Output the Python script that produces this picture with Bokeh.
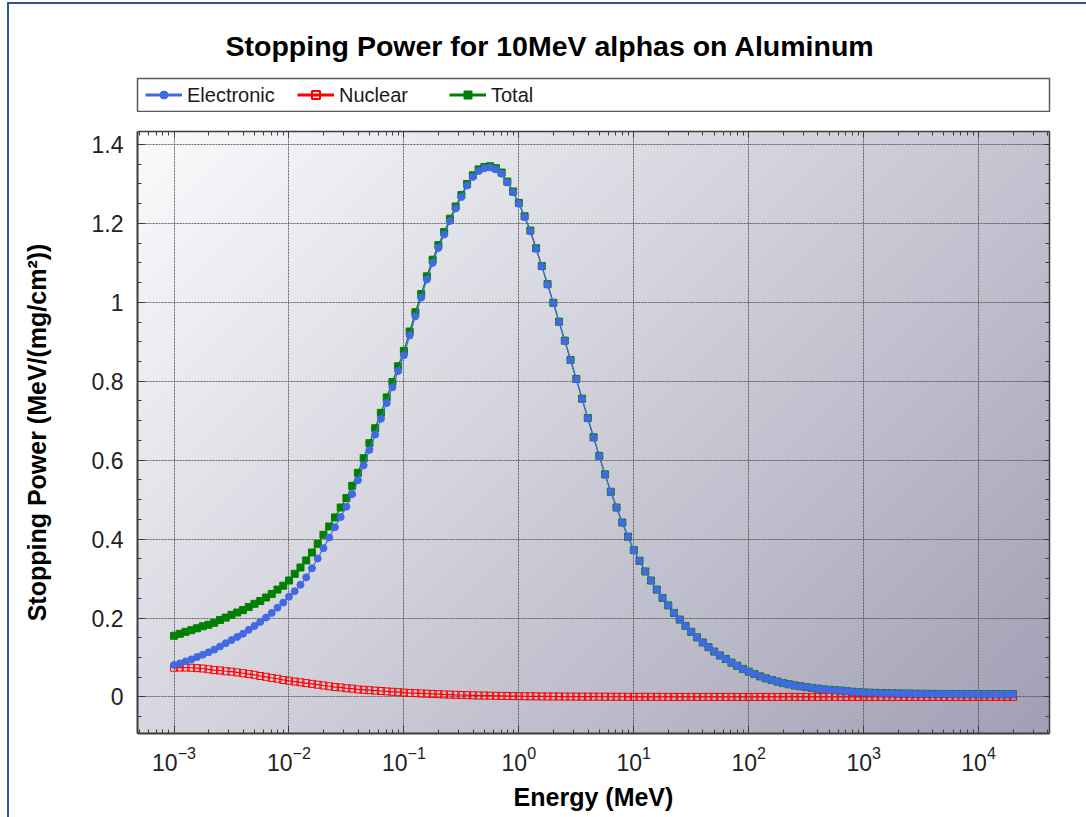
import numpy as np
from bokeh.plotting import figure
from bokeh.models import (Range1d, LogAxis, LinearAxis, FixedTicker, SingleIntervalTicker,
                          LogTickFormatter, CustomJSTickFormatter, Legend, LegendItem,
                          ColumnDataSource, Title)
from bokeh.layouts import column
from bokeh.embed import file_html
from bokeh.resources import INLINE

# ---------------- data ----------------
energy_mev = [
    1.000e-3, 1.122e-3, 1.259e-3, 1.413e-3, 1.585e-3, 1.778e-3, 1.995e-3, 2.239e-3, 2.512e-3, 2.818e-3,
    3.162e-3, 3.548e-3, 3.981e-3, 4.467e-3, 5.012e-3, 5.623e-3, 6.310e-3, 7.079e-3, 7.943e-3, 8.913e-3,
    1.000e-2, 1.122e-2, 1.259e-2, 1.413e-2, 1.585e-2, 1.778e-2, 1.995e-2, 2.239e-2, 2.512e-2, 2.818e-2,
    3.162e-2, 3.548e-2, 3.981e-2, 4.467e-2, 5.012e-2, 5.623e-2, 6.310e-2, 7.079e-2, 7.943e-2, 8.913e-2,
    1.000e-1, 1.122e-1, 1.259e-1, 1.413e-1, 1.585e-1, 1.778e-1, 1.995e-1, 2.239e-1, 2.512e-1, 2.818e-1,
    3.162e-1, 3.548e-1, 3.981e-1, 4.467e-1, 5.012e-1, 5.623e-1, 6.310e-1, 7.079e-1, 7.943e-1, 8.913e-1,
    1.000e0, 1.122e0, 1.259e0, 1.413e0, 1.585e0, 1.778e0, 1.995e0, 2.239e0, 2.512e0, 2.818e0,
    3.162e0, 3.548e0, 3.981e0, 4.467e0, 5.012e0, 5.623e0, 6.310e0, 7.079e0, 7.943e0, 8.913e0,
    1.000e1, 1.122e1, 1.259e1, 1.413e1, 1.585e1, 1.778e1, 1.995e1, 2.239e1, 2.512e1, 2.818e1,
    3.162e1, 3.548e1, 3.981e1, 4.467e1, 5.012e1, 5.623e1, 6.310e1, 7.079e1, 7.943e1, 8.913e1,
    1.000e2, 1.122e2, 1.259e2, 1.413e2, 1.585e2, 1.778e2, 1.995e2, 2.239e2, 2.512e2, 2.818e2,
    3.162e2, 3.548e2, 3.981e2, 4.467e2, 5.012e2, 5.623e2, 6.310e2, 7.079e2, 7.943e2, 8.913e2,
    1.000e3, 1.122e3, 1.259e3, 1.413e3, 1.585e3, 1.778e3, 1.995e3, 2.239e3, 2.512e3, 2.818e3,
    3.162e3, 3.548e3, 3.981e3, 4.467e3, 5.012e3, 5.623e3, 6.310e3, 7.079e3, 7.943e3, 8.913e3,
    1.000e4, 1.122e4, 1.259e4, 1.413e4, 1.585e4, 1.778e4, 1.995e4,
]

electronic = [
    0.081, 0.085, 0.090, 0.095, 0.101, 0.107, 0.113, 0.120, 0.128, 0.136,
    0.144, 0.152, 0.160, 0.170, 0.180, 0.190, 0.201, 0.213, 0.226, 0.239,
    0.254, 0.268, 0.284, 0.303, 0.326, 0.351, 0.377, 0.404, 0.430, 0.456,
    0.482, 0.514, 0.549, 0.587, 0.626, 0.665, 0.705, 0.745, 0.785, 0.826,
    0.866, 0.916, 0.965, 1.012, 1.058, 1.100, 1.138, 1.172, 1.206, 1.238,
    1.267, 1.296, 1.318, 1.333, 1.340, 1.342, 1.337, 1.326, 1.304, 1.279,
    1.250, 1.216, 1.180, 1.136, 1.091, 1.045, 0.998, 0.950, 0.902, 0.853,
    0.805, 0.755, 0.706, 0.657, 0.610, 0.563, 0.520, 0.480, 0.442, 0.406,
    0.372, 0.345, 0.318, 0.295, 0.272, 0.251, 0.232, 0.213, 0.196, 0.180,
    0.165, 0.151, 0.138, 0.126, 0.115, 0.105, 0.096, 0.087, 0.079, 0.071,
    0.064, 0.058, 0.052, 0.047, 0.043, 0.039, 0.035, 0.032, 0.029, 0.027,
    0.025, 0.023, 0.021, 0.019, 0.018, 0.017, 0.016, 0.0145, 0.0133, 0.0121,
    0.0112, 0.0107, 0.0103, 0.0099, 0.0095, 0.0092, 0.0089, 0.0086, 0.0084, 0.0082,
    0.0080, 0.0078, 0.0077, 0.0076, 0.0075, 0.0074, 0.0073, 0.0072, 0.0071, 0.0071,
    0.0070, 0.0069, 0.0069, 0.0068, 0.0068, 0.0068, 0.0068,
]

nuclear = [
    0.074, 0.0745, 0.0745, 0.074, 0.073, 0.072, 0.070, 0.068, 0.067, 0.065,
    0.064, 0.062, 0.060, 0.058, 0.056, 0.053, 0.051, 0.048, 0.046, 0.043,
    0.041, 0.039, 0.037, 0.035, 0.033, 0.031, 0.029, 0.027, 0.025, 0.024,
    0.022, 0.021, 0.019, 0.018, 0.017, 0.016, 0.015, 0.014, 0.013, 0.012,
    0.011, 0.010, 0.0095, 0.0088, 0.0081, 0.0075, 0.0069, 0.0063, 0.0058, 0.0053,
    0.0049, 0.0045, 0.0041, 0.0037, 0.0034, 0.0031, 0.0028, 0.0026, 0.0023, 0.0021,
    0.0019, 0.0017, 0.0016, 0.0014, 0.0013, 0.0012, 0.0011, 0.0010, 0.0009, 0.0008,
    0.0008, 0.0007, 0.0006, 0.0006, 0.0005, 0.0005, 0.0004, 0.0004, 0.0004, 0.0003,
    0.00030, 0.00025, 0.00023, 0.00020, 0.00019, 0.00017, 0.00015, 0.00014, 0.00012, 0.00011,
    0.00010, 0.00009, 0.00008, 0.00007, 0.00007, 0.00006, 0.00005, 0.00005, 0.00004, 0.00004,
    0.00004, 0.00003, 0.00003, 0.00003, 0.00002, 0.00002, 0.00002, 0.00002, 0.00002, 0.00001,
    0.00001, 0.00001, 0.00001, 0.00001, 0.00001, 0.00001, 0.00001, 0.00001, 0.00001, 0.00001,
    0.00001, 0.00001, 0.00001, 0.00001, 0.00001, 0.00001, 0.00001, 0.00001, 0.00001, 0.00001,
    0.00001, 0.00001, 0.00001, 0.00001, 0.00001, 0.00001, 0.00001, 0.00001, 0.00001, 0.00001,
    0.00001, 0.00001, 0.00001, 0.00001, 0.00001, 0.00001, 0.00001,
]

total = [
    0.155, 0.160, 0.165, 0.169, 0.174, 0.179, 0.183, 0.188, 0.195, 0.201,
    0.208, 0.214, 0.220, 0.228, 0.236, 0.243, 0.252, 0.261, 0.272, 0.282,
    0.295, 0.312, 0.328, 0.346, 0.366, 0.388, 0.411, 0.432, 0.455, 0.480,
    0.504, 0.535, 0.568, 0.605, 0.643, 0.681, 0.720, 0.759, 0.798, 0.838,
    0.877, 0.926, 0.975, 1.021, 1.066, 1.108, 1.145, 1.178, 1.212, 1.243,
    1.272, 1.300, 1.322, 1.337, 1.343, 1.345, 1.340, 1.329, 1.306, 1.281,
    1.252, 1.218, 1.182, 1.137, 1.092, 1.046, 0.999, 0.951, 0.903, 0.854,
    0.806, 0.756, 0.707, 0.658, 0.611, 0.564, 0.520, 0.480, 0.442, 0.406,
    0.372, 0.345, 0.318, 0.295, 0.272, 0.251, 0.232, 0.213, 0.196, 0.180,
    0.165, 0.151, 0.138, 0.126, 0.115, 0.105, 0.096, 0.087, 0.079, 0.071,
    0.064, 0.058, 0.052, 0.047, 0.043, 0.039, 0.035, 0.032, 0.029, 0.027,
    0.025, 0.023, 0.021, 0.019, 0.018, 0.017, 0.016, 0.0145, 0.0133, 0.0121,
    0.0112, 0.0107, 0.0103, 0.0099, 0.0095, 0.0092, 0.0089, 0.0086, 0.0084, 0.0082,
    0.0080, 0.0078, 0.0077, 0.0076, 0.0075, 0.0074, 0.0073, 0.0072, 0.0071, 0.0071,
    0.0070, 0.0069, 0.0069, 0.0068, 0.0068, 0.0068, 0.0068,
]

series_labels = ["Electronic", "Nuclear", "Total"]
x_tick_values = [1e-3, 1e-2, 1e-1, 1e0, 1e1, 1e2, 1e3, 1e4]

# ---------------- style ----------------
FONT = "Liberation Sans"
BLUE = "#4169e1"
RED = "#ff0000"
GREEN = "#008000"
W = 1086
LEFT, RIGHT = 137, 37

src = ColumnDataSource(dict(e=energy_mev, el=electronic, nu=nuclear, tot=total))

# ---------------- top figure: title + legend box ----------------
top = figure(width=W, height=112, toolbar_location=None, output_backend="svg",
             x_axis_location=None, y_axis_location=None,
             x_range=Range1d(0, 1), y_range=Range1d(0, 1),
             min_border_left=LEFT, min_border_right=RIGHT,
             min_border_top=78, min_border_bottom=1)
top.grid.visible = False
top.outline_line_color = "#5a5a5a"
top.outline_line_width = 1.5
top.background_fill_color = "white"
top.border_fill_alpha = 0
top.title = Title(text="Stopping Power for 10MeV alphas on Aluminum", align="left",
                  text_font=FONT, text_font_size="28.5px", text_font_style="bold",
                  text_color="black", offset=88, standoff=33)

# legend-only renderers (no visible marks: a single NaN point each)
nan_src = ColumnDataSource(dict(x=[np.nan], y=[np.nan]))
leg_e_line = top.line("x", "y", source=nan_src, line_color=BLUE, line_width=3)
leg_e_mark = top.scatter("x", "y", source=nan_src, marker="circle", size=10, color=BLUE)
leg_n_line = top.line("x", "y", source=nan_src, line_color=RED, line_width=3)
leg_n_mark = top.scatter("x", "y", source=nan_src, marker="square", size=10, line_color=RED,
                         fill_alpha=0, line_width=2)
leg_t_line = top.line("x", "y", source=nan_src, line_color=GREEN, line_width=3)
leg_t_mark = top.scatter("x", "y", source=nan_src, marker="square", size=9, color=GREEN)

legend = Legend(items=[LegendItem(label=series_labels[0], renderers=[leg_e_line, leg_e_mark]),
                       LegendItem(label=series_labels[1], renderers=[leg_n_line, leg_n_mark]),
                       LegendItem(label=series_labels[2], renderers=[leg_t_line, leg_t_mark])],
                location="left", orientation="horizontal",
                border_line_color=None, background_fill_alpha=0,
                glyph_width=37, glyph_height=20, label_standoff=5, label_width=100,
                spacing=10, padding=0, margin=8,
                label_text_font=FONT, label_text_font_size="20px", label_text_color="#1a1a1a")
top.add_layout(legend)

# ---------------- main figure ----------------
x0, x1 = 4.81e-4, 4.14e4
y0, y1 = -0.0927, 1.433
p = figure(width=W, height=705, x_axis_type="log",
           x_range=Range1d(x0, x1), y_range=Range1d(y0, y1),
           toolbar_location=None, output_backend="svg",
           min_border_left=LEFT, min_border_right=RIGHT,
           min_border_top=19, min_border_bottom=84)
p.border_fill_alpha = 0
p.outline_line_color = None
p.background_fill_color = "#d0d0da"

# diagonal gradient background of the plot area
nx, ny = 456, 301
fw, fh = 912.0, 602.0
gx = (np.arange(nx) + 0.5) / nx * fw
gy = (np.arange(ny) + 0.5) / ny * fh
GX, GY = np.meshgrid(gx, gy)
t = (GX + (fh - GY)) / (fw + fh)
c_start = np.array([251, 251, 253], dtype=float)
c_end = np.array([160, 159, 180], dtype=float)
img = np.empty((ny, nx), dtype=np.uint32)
view = img.view(dtype=np.uint8).reshape((ny, nx, 4))
for k in range(3):
    view[:, :, k] = np.round(c_start[k] + (c_end[k] - c_start[k]) * t).astype(np.uint8)
view[:, :, 3] = 255
p.image_rgba(image=[img], x=x0, y=y0, dw=x1 - x0, dh=y1 - y0, level="image")

# tickers
x_minor = [m * 10.0 ** k for k in range(-4, 5) for m in range(2, 10)]
xticker = FixedTicker(ticks=x_tick_values, minor_ticks=x_minor)
yticker = SingleIntervalTicker(interval=0.2, num_minor_ticks=4)
yfmt = CustomJSTickFormatter(code="return String(Math.round(tick * 10) / 10);")
blankfmt = CustomJSTickFormatter(code="return ' ';")

AX = "#3c3c3c"
def style_axis(ax, major_in=8, minor_in=4, lw=2):
    ax.axis_line_color = AX
    ax.axis_line_width = lw
    ax.major_tick_in = major_in
    ax.major_tick_out = 0
    ax.minor_tick_in = minor_in
    ax.minor_tick_out = 0
    ax.major_tick_line_color = AX
    ax.minor_tick_line_color = AX
    ax.major_tick_line_width = 1
    ax.minor_tick_line_width = 1
    ax.major_label_text_font = FONT
    ax.major_label_text_font_size = "23px"
    ax.major_label_text_color = "#222222"
    ax.axis_label_text_font = FONT
    ax.axis_label_text_font_style = "bold"
    ax.axis_label_text_font_size = "25px"
    ax.axis_label_text_color = "black"

xa = p.xaxis[0]
xa.ticker = xticker
xa.formatter = LogTickFormatter()
xa.axis_label = "Energy (MeV)"
style_axis(xa)
xa.major_label_standoff = 12
xa.axis_label_standoff = 9

ya = p.yaxis[0]
ya.ticker = yticker
ya.formatter = yfmt
ya.axis_label = "Stopping Power (MeV/(mg/cm²))"
style_axis(ya)
ya.major_label_standoff = 14
ya.axis_label_standoff = 38

top_ax = LogAxis(ticker=xticker, formatter=blankfmt)
style_axis(top_ax, major_in=6, minor_in=4, lw=1.5)
top_ax.major_label_text_font_size = "2px"
top_ax.major_label_text_alpha = 0
top_ax.major_label_standoff = 0
p.add_layout(top_ax, "above")

right_ax = LinearAxis(ticker=yticker, formatter=blankfmt)
style_axis(right_ax, major_in=6, minor_in=4, lw=1.5)
right_ax.major_label_text_font_size = "2px"
right_ax.major_label_text_alpha = 0
right_ax.major_label_standoff = 0
p.add_layout(right_ax, "right")

for g, tk in ((p.xgrid[0], xticker), (p.ygrid[0], yticker)):
    g.ticker = tk
    g.grid_line_color = "#454545"
    g.grid_line_dash = "2 1"
    g.grid_line_width = 1
    g.grid_line_alpha = 0.8

# series (total underneath, electronic on top)
p.line("e", "tot", source=src, line_color=GREEN, line_width=1.2)
p.scatter("e", "tot", source=src, marker="square", size=7, color=GREEN)
p.line("e", "nu", source=src, line_color=RED, line_width=1.2)
p.scatter("e", "nu", source=src, marker="square", size=7, line_color=RED,
          fill_alpha=0, line_width=1)
p.line("e", "el", source=src, line_color=BLUE, line_width=1.2)
p.scatter("e", "el", source=src, marker="circle", size=7, color=BLUE)

layout = column(top, p, styles={
    "background-color": "white",
    "background-image": "linear-gradient(#2f5597, #2f5597), linear-gradient(#2f5597, #2f5597)",
    "background-size": "1079px 2px, 2px 815px",
    "background-position": "7px 2px, 7px 2px",
    "background-repeat": "no-repeat",
})

open("out.html", "w").write(file_html(layout, INLINE))
